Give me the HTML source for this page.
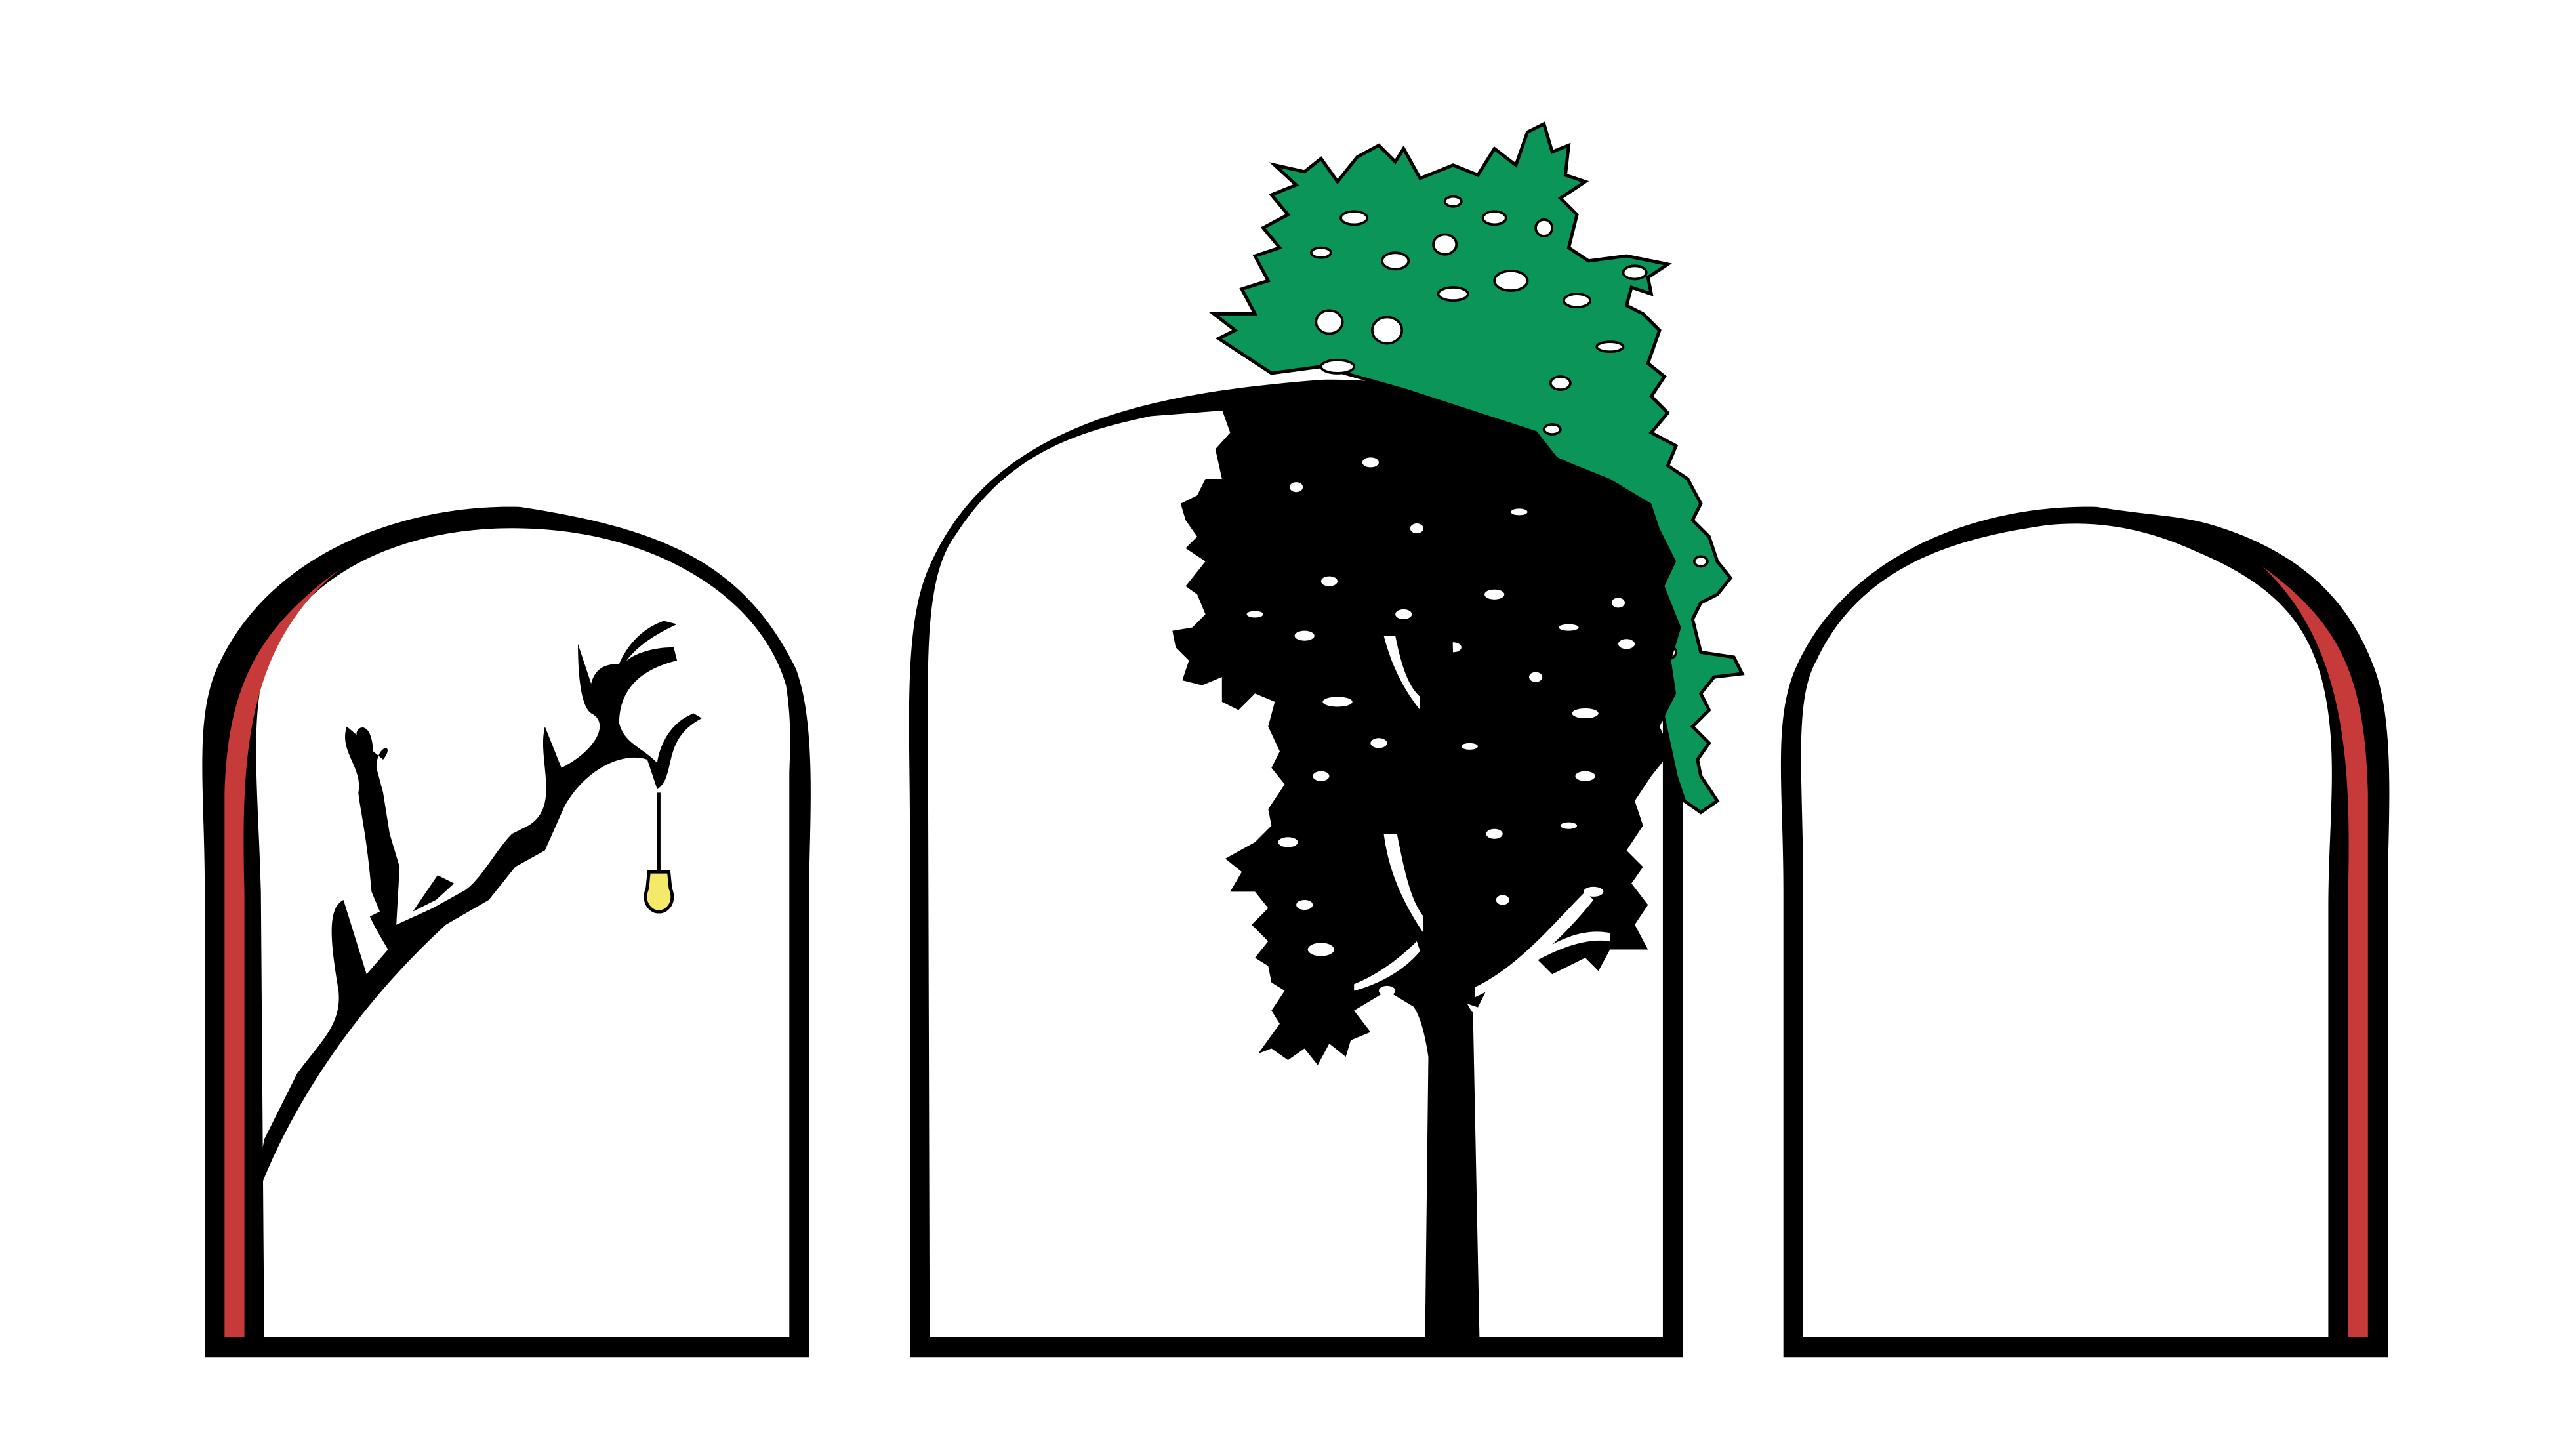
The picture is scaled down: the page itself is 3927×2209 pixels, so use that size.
<!DOCTYPE html>
<html><head><meta charset="utf-8"><style>
html,body{margin:0;padding:0;background:#fff;}
svg{display:block;}
</style></head><body>
<svg width="3927" height="2209" viewBox="0 0 1560 877.5" xmlns="http://www.w3.org/2000/svg">
<rect width="1560" height="878" fill="#fff"/>
<g>
<path d="M124,822 L124,540 C124,480 118,440 130,408 C160,335 245,305 315,307 C400,320 450,340 482,405 C495,440 490,500 490,540 L490,822 Z" fill="#000"/>
<path d="M160,810 L158,540 C156,470 150,425 165,392 C192,340 255,318 318,320 C395,322 460,360 476,415 C480,440 478,460 478,470 L478,810 Z" fill="#fff"/>
<path d="M208,343 C160,378 138,410 136,480 L136,810 L148,810 L148,540 C146,460 148,390 208,343 Z" fill="#c73a3a"/>
</g>
<g>
<path d="M1080,822 L1080,540 C1080,480 1074,440 1086,408 C1116,335 1200,305 1270,307 C1300,312 1320,312 1340,318 C1400,336 1425,370 1438,405 C1451,440 1446,500 1446,540 L1446,822 Z" fill="#000"/>
<path d="M1092,810 L1092,540 C1092,470 1086,425 1100,400 C1128,340 1190,325 1240,318 C1280,314 1310,325 1330,334 C1380,355 1400,380 1408,420 C1416,460 1410,500 1410,550 L1410,810 Z" fill="#fff"/>
<path d="M1370,343 C1418,378 1432,410 1434,480 L1434,810 L1422,810 L1422,540 C1424,460 1420,390 1370,343 Z" fill="#c73a3a"/>
</g>
<g>
<path d="M551,822 L551,500 C551,440 547,380 562,345 C600,255 700,238 800,230 C880,228 950,260 990,300 C1010,330 1019,380 1019,420 L1019,822 Z" fill="#000"/>
<path d="M563,810 L562,450 C562,400 560,350 578,325 C610,275 650,262 697,252 L800,244 C880,244 940,280 975,310 C1000,340 1007,380 1007,420 L1007,810 Z" fill="#fff"/>
</g>
<g fill="#000">
<path d="M152,735 C170,680 210,615 270,560 L296,545 L312,525 L330,515 L342,488 C355,465 378,455 392,460 L398,478 C410,470 400,448 425,435 L420,432 C400,440 398,462 398,462 C388,452 378,450 375,438 C375,420 385,406 410,400 L408,392 C392,392 380,398 378,402 C385,392 395,385 410,378 L402,376 C390,380 380,390 375,402 C365,402 360,406 358,414 L350,390 C350,410 352,428 358,432 C370,438 360,455 340,465 L330,440 C325,460 340,488 320,500 L310,505 C300,515 290,535 280,540 L262,550 L240,560 L242,525 L236,505 L232,480 L228,465 C228,450 240,450 232,460 L226,455 C225,435 215,440 216,445 L210,440 C205,455 220,465 217,480 C218,490 222,505 225,540 L230,552 L224,555 C226,560 232,570 235,575 L222,590 L208,545 C198,550 200,570 205,600 C207,620 195,630 180,650 L160,690 Z"/>
<path d="M264,545 L275,535 L265,530 L250,552 Z"/>
<line x1="399" y1="480" x2="399" y2="528" stroke="#000" stroke-width="2"/>
<path d="M393,528 L405,528 L406,538 C410,548 402,553 399,552 C396,553 388,548 392,538 Z" fill="#f5e96a" stroke="#000" stroke-width="2"/>
</g>
<g>
<path fill="#0b9558" stroke="#000" stroke-width="2" d="M738,205 L748,200 L735,190 L760,190 L752,175 L768,170 L760,155 L775,150 L765,138 L780,130 L770,118 L785,112 L772,100 L790,104 L800,96 L810,110 L822,95 L835,88 L845,98 L850,90 L860,108 L880,100 L895,106 L905,90 L918,100 L925,80 L935,75 L940,92 L950,88 L948,106 L960,110 L945,120 L955,130 L950,150 L962,158 L985,155 L1010,160 L998,168 L1000,178 L988,174 L985,185 L995,190 L1005,200 L998,220 L1008,228 L1000,240 L1010,250 L1000,262 L1015,270 L1010,282 L1022,290 L1030,305 L1025,315 L1035,325 L1040,340 L1048,350 L1040,360 L1030,365 L1025,375 L1030,395 L1050,398 L1055,408 L1038,410 L1030,420 L1035,430 L1025,440 L1035,450 L1028,460 L1030,470 L1040,485 L1030,492 L1020,485 L1015,470 L1000,400 L960,300 L930,262 L850,236 L800,222 L770,226 Z"/>
<g fill="#fff" stroke="#000" stroke-width="1.5">
<ellipse cx="820" cy="132" rx="8" ry="4"/><ellipse cx="800" cy="153" rx="6" ry="3"/><ellipse cx="845" cy="158" rx="8" ry="5"/><ellipse cx="875" cy="148" rx="7" ry="6"/>
<ellipse cx="905" cy="132" rx="7" ry="4"/><ellipse cx="935" cy="138" rx="5" ry="5"/><ellipse cx="915" cy="170" rx="10" ry="6"/><ellipse cx="880" cy="178" rx="9" ry="4"/>
<ellipse cx="840" cy="200" rx="9" ry="8"/><ellipse cx="805" cy="195" rx="8" ry="7"/><ellipse cx="880" cy="122" rx="5" ry="3"/><ellipse cx="955" cy="182" rx="8" ry="4"/>
<ellipse cx="990" cy="165" rx="7" ry="4"/><ellipse cx="975" cy="210" rx="8" ry="3"/><ellipse cx="945" cy="232" rx="6" ry="4"/><ellipse cx="940" cy="260" rx="5" ry="3"/>
<ellipse cx="965" cy="312" rx="6" ry="4"/><ellipse cx="1010" cy="395" rx="5" ry="4"/><ellipse cx="1030" cy="340" rx="4" ry="3"/><ellipse cx="810" cy="222" rx="10" ry="4"/>
</g>
<path fill="#000" d="M740,248 L760,240 L800,236 L870,244 L950,280 L975,290 L1000,305 L1005,320 L1015,340 L1008,355 L1018,380 L1012,400 L1015,420 L1005,440 L1012,455 L1000,470 L990,485 L995,500 L985,515 L995,525 L988,535 L998,548 L990,560 L998,575 L975,575 L968,588 L960,580 L940,590 L930,580 L900,600 L895,610 L880,605 L860,612 L840,600 L820,612 L830,625 L818,630 L815,640 L805,632 L798,645 L790,635 L780,642 L770,635 L762,638 L775,620 L770,612 L778,600 L770,595 L768,585 L760,580 L768,570 L758,560 L768,550 L760,540 L745,540 L752,528 L742,520 L760,510 L770,500 L768,490 L778,475 L770,465 L775,455 L768,440 L772,425 L760,420 L750,430 L740,425 L740,410 L728,415 L716,412 L720,400 L712,392 L710,382 L722,380 L730,372 L725,360 L718,355 L730,340 L718,332 L725,325 L718,315 L715,305 L725,300 L730,290 L740,290 L736,272 L745,262 Z"/>
<g fill="#fff">
<ellipse cx="785" cy="295" rx="4" ry="3"/><ellipse cx="830" cy="280" rx="5" ry="3"/><ellipse cx="858" cy="320" rx="4" ry="3"/><ellipse cx="920" cy="310" rx="5" ry="2"/>
<ellipse cx="790" cy="385" rx="6" ry="3"/><ellipse cx="760" cy="372" rx="5" ry="2"/><ellipse cx="805" cy="352" rx="5" ry="3"/><ellipse cx="850" cy="372" rx="5" ry="3"/>
<ellipse cx="905" cy="360" rx="6" ry="3"/><ellipse cx="950" cy="380" rx="6" ry="2"/><ellipse cx="985" cy="390" rx="5" ry="3"/><ellipse cx="930" cy="410" rx="4" ry="3"/>
<ellipse cx="810" cy="425" rx="9" ry="3"/><ellipse cx="960" cy="432" rx="8" ry="3"/><ellipse cx="890" cy="452" rx="5" ry="2"/><ellipse cx="800" cy="470" rx="5" ry="3"/>
<ellipse cx="960" cy="470" rx="6" ry="3"/><ellipse cx="780" cy="510" rx="6" ry="3"/><ellipse cx="905" cy="505" rx="5" ry="3"/><ellipse cx="965" cy="540" rx="6" ry="3"/>
<ellipse cx="800" cy="575" rx="8" ry="4"/><ellipse cx="790" cy="548" rx="5" ry="3"/><ellipse cx="840" cy="600" rx="5" ry="3"/><ellipse cx="980" cy="365" rx="4" ry="3"/>
<ellipse cx="910" cy="545" rx="4" ry="3"/><ellipse cx="950" cy="500" rx="5" ry="2"/><ellipse cx="835" cy="450" rx="5" ry="3"/><ellipse cx="880" cy="392" rx="5" ry="3"/>
<path d="M893,598 C920,585 940,560 960,540 L965,545 C945,570 920,592 893,604 Z"/>
<path d="M930,578 C945,568 960,562 975,565 L975,570 C960,568 945,574 930,582 Z"/>
<path d="M862,565 C845,540 840,520 838,505 L846,505 C850,525 854,545 862,555 Z"/>
<path d="M860,430 C848,415 842,400 838,385 L845,385 C848,400 852,415 860,422 Z"/>
<path d="M820,596 C835,590 848,580 858,570 L860,576 C850,588 835,596 820,600 Z"/>
</g>
<path d="M863,812 L865,640 C862,620 858,610 852,605 L862,600 L864,300 L878,300 L884,600 C890,610 892,615 892,612 L896,812 Z" fill="#000"/>
</g>
</svg>
</body></html>
